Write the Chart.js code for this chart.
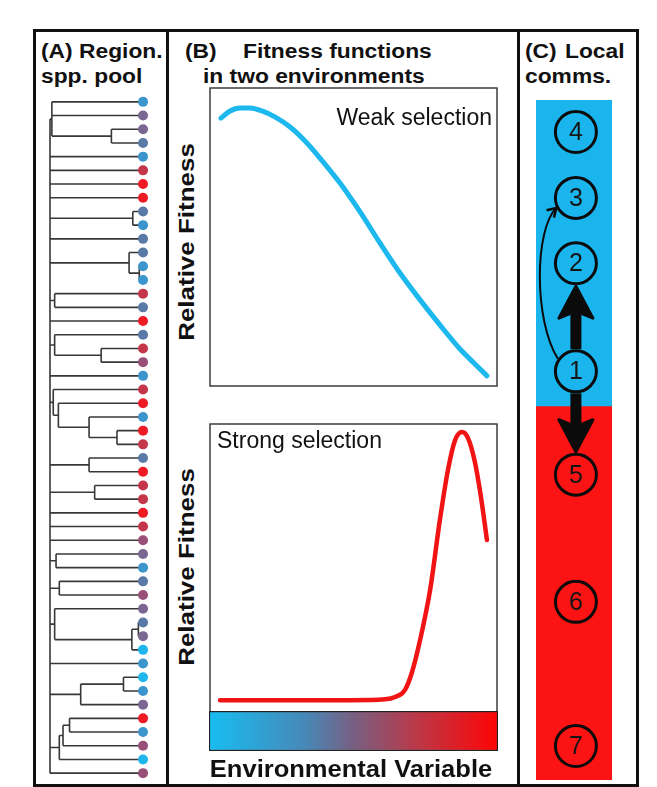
<!DOCTYPE html>
<html>
<head>
<meta charset="utf-8">
<script src="https://cdn.jsdelivr.net/npm/chart.js@4.4.1/dist/chart.umd.min.js"></script>
<style>
  html, body { margin: 0; padding: 0; background: #fff; }
  #page { position: relative; width: 657px; height: 787px; overflow: hidden; font-family: "Liberation Sans", Arial, sans-serif; color: #111; }
  .rule { position: absolute; background: #111; }
  .hd { position: absolute; white-space: nowrap; font-weight: bold; font-size: 20px; line-height: 20px; transform-origin: 0 0; transform: scaleX(1.14); }
  .note { position: absolute; white-space: nowrap; font-size: 23px; line-height: 23px; }
  .ytitle { position: absolute; width: 240px; height: 22px; text-align: center; white-space: nowrap; font-weight: bold; font-size: 22px; line-height: 22px; transform-origin: 50% 50%; transform: rotate(-90deg) scaleX(1.18); }
  canvas { position: absolute; }
</style>
</head>
<body>
<div id="page">
  <!-- frame -->
  <div class="rule" style="left:33px;top:29px;width:606px;height:3px"></div>
  <div class="rule" style="left:33px;top:784px;width:606px;height:3px"></div>
  <div class="rule" style="left:33px;top:29px;width:3px;height:760px"></div>
  <div class="rule" style="left:166px;top:29px;width:3px;height:760px"></div>
  <div class="rule" style="left:517px;top:29px;width:3px;height:760px"></div>
  <div class="rule" style="left:636px;top:29px;width:3px;height:760px"></div>

  <!-- headings -->
  <div class="hd" style="left:41px;top:41px">(A) Region.</div>
  <div class="hd" style="left:41px;top:66px">spp. pool</div>
  <div class="hd" style="left:185px;top:41px">(B)</div>
  <div class="hd" style="left:243px;top:41px">Fitness functions</div>
  <div class="hd" style="left:203px;top:66px">in two environments</div>
  <div class="hd" style="left:525px;top:41px">(C)</div>
  <div class="hd" style="left:565px;top:41px">Local</div>
  <div class="hd" style="left:525px;top:66px">comms.</div>

  <canvas id="tree" width="130" height="685" style="left:36px;top:95px"></canvas>
  <canvas id="weak" width="291" height="302" style="left:208px;top:86px"></canvas>
  <canvas id="strong" width="291" height="292" style="left:208px;top:422px"></canvas>
  <canvas id="envbar" width="289" height="40" style="left:209px;top:711px"></canvas>
  <canvas id="comms" width="76" height="680" style="left:536px;top:100px"></canvas>

  <div class="note" style="right:165px;top:106px">Weak selection</div>
  <div class="note" style="left:217px;top:429px">Strong selection</div>
  <div class="ytitle" style="left:67px;top:231px">Relative Fitness</div>
  <div class="ytitle" style="left:67px;top:556px">Relative Fitness</div>
  <div class="hd" style="left:151px;top:758px;width:400px;text-align:center;font-size:23px;line-height:23px;transform-origin:50% 50%;transform:scaleX(1.11)">Environmental Variable</div>
</div>

<script>
// ---- (A) regional species pool ----
// tree: [node depth (0 = root, 1 = tips), ...children]; numbers are tips, top to bottom
const tree = [0,
  [0.02, 1, 2, [0.66, 3, 4]],
  5, 6, 7, 8,
  [0.89, 9, 10],
  11,
  [0.85, 12, [0.96, 13, 14]],
  [0.05, 15, 16],
  17,
  [0.05, 18, [0.55, 19, 20]],
  21,
  [0.035, 22, [0.09, 23, [0.42, 24, [0.72, 25, 26]]]],
  [0.42, 27, 28],
  [0.48, 29, 30],
  31, 32, 33,
  [0.065, 34, 35],
  [0.1, 36, 37],
  [0.05, 38, [0.88, [0.95, 39, 40], 41]],
  42,
  [0.33, [0.79, 43, 44], 45],
  [0.1, [0.14, [0.21, 46, 47], 48], 49],
  50
];
// environment preference of each tip (cy = coldest/blue ... rd = red)
const tipTrait = [
  'bl', 'pu', 'pu', 'bg', 'bl', 'cr', 'rd', 'rd', 'bg', 'bl',
  'bg', 'bg', 'bl', 'bl', 'cr', 'bg', 'rd', 'bg', 'cr', 'mv',
  'bl', 'cr', 'rd', 'bl', 'rd', 'cr', 'bg', 'rd', 'cr', 'cr',
  'rd', 'cr', 'mv', 'pu', 'bl', 'bg', 'mv', 'pu', 'bg', 'pu',
  'cy', 'bl', 'cy', 'bl', 'pu', 'rd', 'bl', 'mv', 'cy', 'mv'
];

// ---- (B) fitness functions (environment 0-100, relative fitness 0-100) ----
const weakEnv = [3.8, 7.0, 10.5, 13.9, 18.1, 22.6, 27.9, 33.1, 38.3, 45.3, 52.3, 59.2, 66.2, 73.2, 80.1, 87.1, 92.3, 96.5];
const weakFit = [89.9, 92.3, 93.3, 93.3, 92.3, 90.3, 86.9, 82.2, 76.5, 68.1, 58.4, 48.0, 37.9, 28.9, 20.5, 12.4, 7.4, 3.4];
const strongEnv = [3.5, 13.9, 31.4, 48.8, 61.0, 64.5, 67.9, 70.4, 73.2, 76.7, 80.1, 82.9, 85.4, 87.8, 89.9, 92.3, 94.4, 96.5];
const strongFit = [4.1, 4.1, 4.1, 4.1, 4.4, 5.2, 7.6, 13.9, 25.0, 42.4, 66.7, 84.0, 94.4, 97.2, 95.1, 86.8, 74.7, 59.7];

// ---- (C) local communities along the gradient (0 = bottom, 100 = top) ----
const commLabels = ['4', '3', '2', '1', '5', '6', '7'];
const commEnv = [95.3, 85.6, 76.0, 60.1, 44.9, 26.2, 5.0];
const envBreak = 54.9;
const moves = [['1', '2', 'strong'], ['1', '5', 'strong'], ['1', '3', 'weak']];

// ---- styles ----
const traitColor = { cy: '#1fb6ec', bl: '#3c95cc', bg: '#5a79a7', pu: '#7a6792', mv: '#985078', cr: '#c4364a', rd: '#ee1b24' };
const gradStops = [[0, '#17bdf3'], [0.33, '#4689b8'], [0.5, '#785f82'], [0.72, '#bb3847'], [1, '#ff0404']];
const FONT = '"Liberation Sans", Arial, sans-serif';

const common = {
  responsive: false,
  animation: false,
  events: [],
  devicePixelRatio: 1,
  layout: { autoPadding: false, padding: 0 }
};
const quiet = { legend: { display: false }, tooltip: { enabled: false } };

// rectangle round the plotting area
const boxFrame = {
  id: 'boxFrame',
  afterDraw(chart) {
    const { ctx, chartArea: a } = chart;
    ctx.save();
    ctx.strokeStyle = '#3c3c3c';
    ctx.lineWidth = 1.5;
    ctx.strokeRect(a.left, a.top, a.right - a.left, a.bottom - a.top);
    ctx.restore();
  }
};

// build elbow segments for the tree, null y breaks the line
const branchPts = [];
function walk(node) {
  if (typeof node === 'number') return { y: node, d: 1 };
  const [d, ...kids] = node;
  const cs = kids.map(walk);
  const y0 = cs[0].y, y1 = cs[cs.length - 1].y;
  branchPts.push({ x: d, y: y0 }, { x: d, y: y1 }, { x: d, y: null });
  cs.forEach(c => branchPts.push({ x: d, y: c.y }, { x: c.d, y: c.y }, { x: d, y: null }));
  return { y: (y0 + y1) / 2, d };
}
walk(tree);

new Chart(document.getElementById('tree'), {
  type: 'scatter',
  data: {
    datasets: [
      {
        data: tipTrait.map((t, i) => ({ x: 1, y: i + 1 })),
        pointRadius: 5,
        pointBackgroundColor: tipTrait.map(t => traitColor[t]),
        pointBorderWidth: 0,
        order: 0,
        clip: false
      },
      {
        data: branchPts,
        showLine: true,
        spanGaps: false,
        borderColor: '#383838',
        borderWidth: 1.6,
        pointRadius: 0,
        order: 1,
        clip: false
      }
    ]
  },
  options: {
    ...common,
    plugins: quiet,
    scales: {
      x: { type: 'linear', min: -0.1505, max: 1.247, display: false },
      y: { type: 'linear', reverse: true, min: 0.5, max: 50.5, display: false }
    }
  }
});

function fitnessChart(id, xs, ys, color, width) {
  return new Chart(document.getElementById(id), {
    type: 'line',
    data: {
      datasets: [{
        data: xs.map((x, i) => ({ x, y: ys[i] })),
        borderColor: color,
        borderWidth: width,
        borderCapStyle: 'round',
        pointRadius: 0,
        cubicInterpolationMode: 'monotone',
        clip: false
      }]
    },
    options: {
      ...common,
      layout: { autoPadding: false, padding: 2 },
      plugins: quiet,
      scales: {
        x: { type: 'linear', min: 0, max: 100, display: false },
        y: { type: 'linear', min: 0, max: 100, display: false }
      }
    },
    plugins: [boxFrame]
  });
}
fitnessChart('weak', weakEnv, weakFit, '#1cb8ee', 5);
fitnessChart('strong', strongEnv, strongFit, '#f01414', 4.5);

// environmental gradient bar under the lower plot
function envGradient(chart) {
  const a = chart.chartArea;
  if (!a) return null;
  const g = chart.ctx.createLinearGradient(a.left, 0, a.right, 0);
  gradStops.forEach(([p, c]) => g.addColorStop(p, c));
  return g;
}
new Chart(document.getElementById('envbar'), {
  type: 'bar',
  data: {
    labels: ['env'],
    datasets: [{
      data: [[0, 100]],
      backgroundColor: ctx => envGradient(ctx.chart),
      borderColor: '#222',
      borderWidth: 1.5,
      borderSkipped: false,
      barPercentage: 1,
      categoryPercentage: 1
    }]
  },
  options: {
    ...common,
    indexAxis: 'y',
    plugins: quiet,
    scales: {
      x: { type: 'linear', min: 0, max: 100, display: false },
      y: { display: false }
    }
  }
});

// arrows between communities and numbers in the circles
const communityMarks = {
  id: 'communityMarks',
  afterDatasetsDraw(chart) {
    const { ctx } = chart;
    const pts = chart.getDatasetMeta(0).data;
    const at = lbl => pts[commLabels.indexOf(lbl)];
    const r = 22;
    ctx.save();
    ctx.fillStyle = '#0b0b0b';
    ctx.strokeStyle = '#0b0b0b';
    ctx.lineJoin = 'round';
    moves.forEach(([from, to, kind]) => {
      const a = at(from), b = at(to);
      if (kind === 'strong') {
        const dx = b.x - a.x, dy = b.y - a.y, len = Math.hypot(dx, dy);
        const ux = dx / len, uy = dy / len;
        const sx = a.x + ux * r, sy = a.y + uy * r;
        const tx = b.x - ux * (r + 1), ty = b.y - uy * (r + 1);
        const hl = 32, hw = 17;
        const bx = tx - ux * hl, by = ty - uy * hl;
        ctx.lineWidth = 11;
        ctx.beginPath();
        ctx.moveTo(sx, sy);
        ctx.lineTo(bx + ux * 6, by + uy * 6);
        ctx.stroke();
        ctx.lineWidth = 3;
        ctx.beginPath();
        ctx.moveTo(tx, ty);
        ctx.lineTo(bx - uy * hw, by + ux * hw);
        ctx.lineTo(bx + ux * 7, by + uy * 7);
        ctx.lineTo(bx + uy * hw, by - ux * hw);
        ctx.closePath();
        ctx.fill();
        ctx.stroke();
      } else {
        const s = { x: a.x + r * Math.cos(-2.53), y: a.y + r * Math.sin(-2.53) };
        const e = { x: b.x + r * Math.cos(2.67), y: b.y + r * Math.sin(2.67) };
        const c1 = { x: s.x - 24, y: s.y - 38 };
        const c2 = { x: e.x - 22, y: e.y + 22 };
        ctx.lineWidth = 2;
        ctx.beginPath();
        ctx.moveTo(s.x, s.y);
        ctx.bezierCurveTo(c1.x, c1.y, c2.x, c2.y, e.x, e.y);
        ctx.stroke();
        const ang = Math.atan2(e.y - c2.y, e.x - c2.x);
        ctx.lineWidth = 2.5;
        ctx.beginPath();
        ctx.moveTo(e.x - 10 * Math.cos(ang - 0.55), e.y - 10 * Math.sin(ang - 0.55));
        ctx.lineTo(e.x, e.y);
        ctx.lineTo(e.x - 10 * Math.cos(ang + 0.55), e.y - 10 * Math.sin(ang + 0.55));
        ctx.stroke();
      }
    });
    ctx.fillStyle = '#151515';
    ctx.font = '25px ' + FONT;
    ctx.textAlign = 'center';
    ctx.textBaseline = 'middle';
    pts.forEach((p, i) => ctx.fillText(commLabels[i], p.x, p.y + 1));
    ctx.restore();
  }
};

new Chart(document.getElementById('comms'), {
  type: 'bar',
  data: {
    labels: ['gradient'],
    datasets: [
      {
        type: 'scatter',
        xAxisID: 'x2',
        data: commEnv.map(y => ({ x: 0.55, y })),
        pointRadius: 20.5,
        pointBorderWidth: 3,
        pointBorderColor: '#0b0b0b',
        pointBackgroundColor: 'rgba(0,0,0,0)',
        order: 0,
        clip: false
      },
      { data: [[0, envBreak]], backgroundColor: '#fc1313', grouped: false, barPercentage: 1, categoryPercentage: 1, order: 1 },
      { data: [[envBreak, 100]], backgroundColor: '#1bb5ee', grouped: false, barPercentage: 1, categoryPercentage: 1, order: 1 }
    ]
  },
  options: {
    ...common,
    plugins: quiet,
    scales: {
      x: { display: false },
      x2: { type: 'linear', min: 0, max: 1, display: false },
      y: { type: 'linear', min: 0, max: 100, display: false }
    }
  },
  plugins: [communityMarks]
});
</script>
</body>
</html>
